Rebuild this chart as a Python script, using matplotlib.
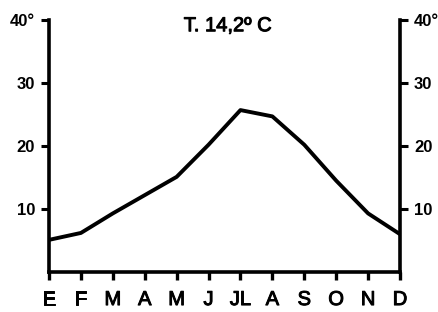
import matplotlib
matplotlib.use("Agg")
import matplotlib.pyplot as plt
import matplotlib.patheffects as pe

months = ["E", "F", "M", "A", "M", "J", "JL", "A", "S", "O", "N", "D"]
temps = [5.1, 6.2, 9.3, 12.2, 15.1, 20.2, 25.7, 24.7, 20.2, 14.5, 9.3, 6.0]
yticks = [10, 20, 30, 40]
ytick_labels = ["10", "20", "30", "40°"]
title = "T. 14,2º C"

plt.rcParams['font.family'] = ['Liberation Sans', 'DejaVu Sans']

fig = plt.figure(figsize=(4.38, 3.12), dpi=100)
ax = fig.add_axes([49/438, 40/312, 351/438, 252/312])
x = list(range(len(months)))
ax.plot(x, temps, color="black", lw=2.8, solid_joinstyle="round", solid_capstyle="round")
ax.set_xlim(0, 11)
ax.set_ylim(0, 40)

ax.spines["top"].set_visible(False)
for s in ["left", "bottom", "right"]:
    ax.spines[s].set_linewidth(2.6)
    ax.spines[s].set_capstyle("projecting")

thick = [pe.withStroke(linewidth=0.7, foreground="black")]

ax.set_xticks(x)
ax.set_xticklabels(months, fontsize=14.5)
ax.tick_params(axis="x", length=6, width=2.4, pad=7, direction="out")
for lbl in ax.get_xticklabels():
    lbl.set_path_effects(thick)

ax.set_yticks(yticks)
ax.set_yticklabels(ytick_labels, fontsize=12, fontweight="bold")
ax.tick_params(axis="y", length=6, width=2.2, pad=4, direction="out",
               left=True, right=True, labelleft=True, labelright=True)

ax.text(5.6, 40.6, title, ha="center", va="top", fontsize=14.5,
        transform=ax.transData, path_effects=thick)

fig.savefig("out.png", dpi=100)
